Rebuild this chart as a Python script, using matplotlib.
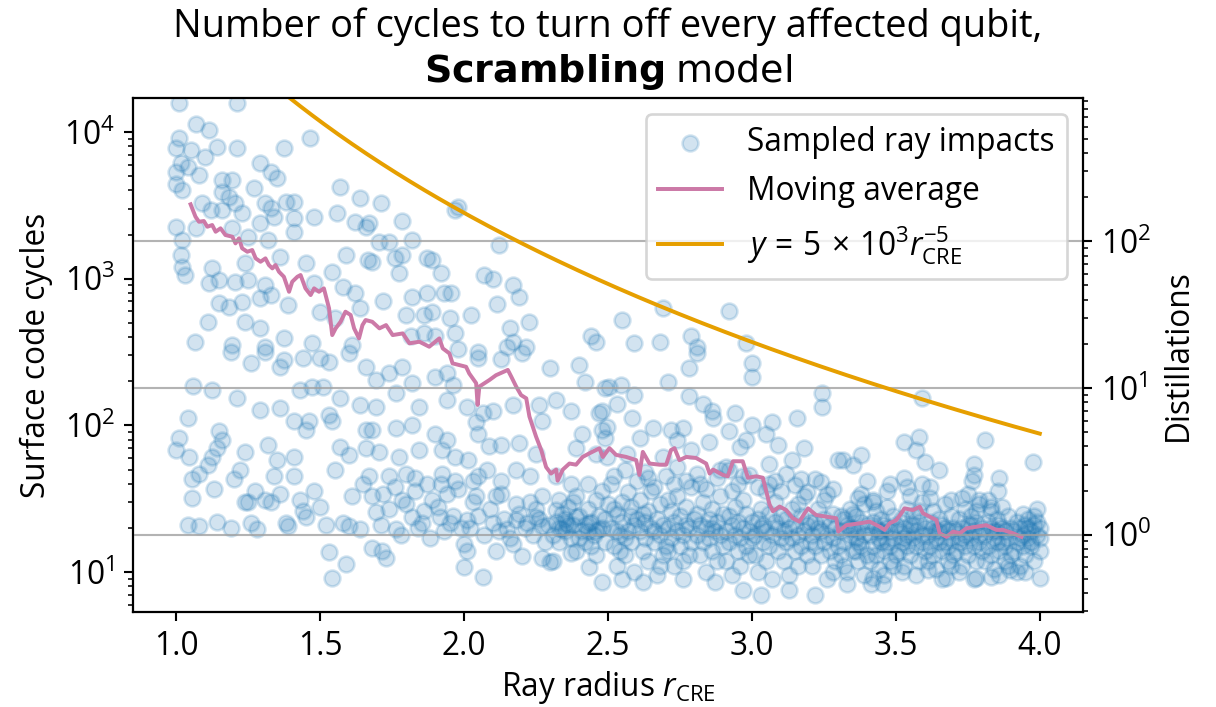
import numpy as np
import matplotlib
matplotlib.use("Agg")
import matplotlib.pyplot as plt

plt.rcParams['font.family'] = ['Open Sans', 'DejaVu Sans']
plt.rcParams['font.size'] = 12
plt.rcParams['mathtext.fontset'] = 'custom'
plt.rcParams['mathtext.rm'] = 'Open Sans'
plt.rcParams['mathtext.it'] = 'Open Sans:italic'
plt.rcParams['mathtext.bf'] = 'DejaVu Sans:bold'
plt.rcParams['mathtext.sf'] = 'DejaVu Sans'

# ---------------- data ----------------
pts_upper_left = [(1.01,15800),(1.21,15800),(1.07,11300),(1.115,10300),(1.01,9100),(1.0,7800),(1.05,7500),(1.14,7900),(1.21,7800),(1.10,6800),(1.375,7800),(1.465,9100),(1.015,6150),(1.0,5300),(1.04,5800),(1.08,5100),(1.0,4400),(1.02,4000),(1.16,4700),(1.195,4700),(1.29,6150),(1.33,5300),(1.35,4850),(1.27,4150),(1.16,3900),(1.185,3600),(1.205,3300),(1.09,3300),(1.12,2950),(1.57,4200),(1.64,3550),(1.31,3300),(1.38,3350),(1.41,3350),(1.33,3050),(1.34,2640),(1.23,2800),(1.16,2950),(1.48,2640),(1.56,2800),(1.41,2600),(1.0,2250),(1.07,2220),(1.29,2400),(1.195,2220),(1.41,2080),(1.62,2440),(1.66,2250),(1.02,1840),(1.25,1930),(1.32,1840),(1.015,1450),(1.02,1200),(1.03,1060),(1.125,1180),(1.24,1280),(1.36,1410),(1.45,1280),(1.59,1450),(1.665,1340),(1.115,930),(1.15,980),(1.205,950),(1.25,980),(1.31,910),(1.48,930),(1.54,1110),(1.58,880),(1.62,800),(1.15,680),(1.185,640),(1.23,690),(1.29,740),(1.33,770),(1.39,660),(1.50,590),(1.55,540),(1.64,630),(1.11,510),(1.24,510),(1.29,460),(1.065,370),(1.195,355),(1.31,340),(1.375,395),(1.47,365),(1.61,355)]

pts_lower_left = [(1.19,317),(1.26,265),(1.31,317),(1.36,250),(1.375,280),(1.44,290),(1.50,290),(1.53,270),(1.60,310),(1.66,250),(1.06,185),(1.125,175),(1.21,153),(1.29,128),(1.36,131),(1.04,113),(1.41,108),(1.46,108),(1.43,175),(1.47,182),(1.51,182),(1.45,93),(1.53,117),(1.54,108),(1.57,153),(1.64,138),(1.66,93),(1.01,82),(1.0,68),(1.045,61),(1.15,91),(1.16,79),(1.14,70),(1.125,61),(1.11,54),(1.08,47),(1.055,43),(1.13,37),(1.055,32),(1.24,66),(1.22,50),(1.20,43),(1.32,74),(1.35,58),(1.41,61),(1.34,45),(1.41,45),(1.55,50),(1.57,71),(1.60,63),(1.66,70),(1.275,36),(1.24,30),(1.25,30),(1.31,31),(1.33,30),(1.36,34),(1.43,31),(1.44,26),(1.48,36),(1.50,28),(1.61,33),(1.65,40),(1.04,21),(1.08,20.5),(1.14,22),(1.19,20),(1.26,21.5),(1.28,19.7),(1.38,21.5),(1.39,20.5),(1.45,23.6),(1.52,21),(1.58,21.5),(1.60,20.5),(1.64,19.7),(1.53,13.7),(1.59,11.3),(1.54,9.1),(1.68,14.6)]

pts_upper_mid = [(1.71,3300),(1.67,2400),(1.785,2480),(1.98,3080),(1.97,2950),(1.705,1780),(1.74,1780),(1.82,1840),(1.68,1300),(1.76,1380),(1.785,1450),(1.87,1380),(1.89,1340),(1.775,1100),(1.92,1100),(2.12,1700),(2.07,1060),(2.10,1000),(2.17,910),(2.19,750),(2.115,670),(1.72,710),(1.82,750),(1.87,800),(1.93,800),(1.955,800),(1.80,565),(1.86,565),(1.89,590),(1.95,540),(2.025,565),(1.97,430),(1.86,430),(1.815,410),(1.90,410),(2.16,460),(2.225,510),(2.17,370),(2.215,340),(2.15,340),(2.44,410),(2.46,370),(1.98,330),(2.05,315),(2.55,520),(2.69,630),(2.92,600),(2.59,365),(2.68,370),(2.79,410),(2.81,340),(2.98,365)]

pts_lower_mid = [(1.74,227),(1.785,250),(1.695,205),(1.82,195),(1.90,215),(1.94,227),(1.96,188),(2.05,290),(2.13,285),(2.20,310),(2.30,245),(2.40,260),(2.42,197),(2.49,180),(1.765,167),(1.695,133),(1.845,133),(1.94,150),(2.01,133),(2.065,122),(2.10,126),(2.17,137),(2.26,137),(2.32,150),(2.37,126),(2.47,122),(1.68,93),(1.765,96),(1.82,100),(1.90,88),(1.94,80),(2.04,105),(2.05,88),(2.27,108),(2.41,88),(2.48,93),(1.705,66),(1.775,61),(1.845,68),(1.925,68),(1.97,61),(2.015,58),(2.085,72),(2.13,74),(2.19,76),(2.25,64),(2.39,70),(2.46,64),(1.67,45),(1.74,45),(1.80,47),(1.87,40),(1.925,47),(1.97,42),(2.03,42),(2.05,45),(2.08,50),(2.13,42),(2.18,50),(2.23,45),(2.32,45),(2.37,40),(2.43,40),(2.48,36),(1.68,33),(1.72,34),(1.785,31),(1.83,36),(1.89,31),(1.94,34),(1.98,37),(2.04,33),(2.13,34),(2.23,30),(2.27,33),(2.33,31),(2.39,33),(2.46,31),(1.695,25.5),(1.765,19.7),(1.82,23.7),(1.855,21.5),(1.915,23.7),(1.95,21.5),(2.01,22.5),(2.10,21.5),(2.15,19.7),(2.18,22.5),(2.22,21.5),(2.25,23.7),(2.27,20.5),(2.32,26.5),(2.355,21.5),(2.39,23.7),(2.435,21.5),(2.47,19.7),(2.34,19.7),(2.43,19),(1.715,14),(1.73,12.5),(2.0,15.6),(2.01,14),(2.0,10.9),(2.065,9.3),(2.11,14),(2.17,15.6),(2.20,12.8),(2.27,12.4),(2.30,11.7),(2.37,13.6),(2.435,10.9),(2.48,8.6),
(1.71,21),(1.74,27),(1.78,18),(1.80,29),(1.84,20),(1.86,26),(1.88,17),(1.91,28),(1.93,19),(1.96,24),(1.99,20),(1.76,38),(1.83,44),(1.92,40),
(2.02,20),(2.05,24),(2.07,18),(2.09,27),(2.12,19),(2.14,23),(2.16,17),(2.19,25),(2.21,20),(2.24,18),(2.26,23),(2.28,16),(2.29,21),(2.03,30),(2.11,33),(2.18,29),(2.25,27),
(2.31,18),(2.32,22),(2.33,16),(2.34,25),(2.35,19),(2.36,28),(2.37,17),(2.38,21),(2.39,14),(2.40,24),(2.41,19),(2.42,16),(2.43,27),(2.44,22),(2.45,18),(2.46,13),(2.47,24),(2.48,20),(2.49,16),(2.50,29),(2.31,12),(2.35,23),(2.38,30),(2.42,21),(2.46,19),(2.49,23),(2.33,20),(2.40,17),(2.44,15),(2.36,21)]

pts_upper_right = [(2.81,310),(2.78,245),(3.0,265),(3.0,215),(2.71,197),(2.505,182),(2.545,188),(2.59,160),(2.78,158),(3.245,166),(3.245,133),(2.48,126),(2.53,141),(2.585,112),(2.83,141),(2.86,126),(2.865,113),(2.94,121),(3.155,112),(2.495,97),(2.655,96),(2.72,93),(2.76,96),(2.92,91),(3.0,100),(3.07,105),(2.49,82),(2.61,82),(2.74,79),(2.85,77),(2.98,79),(3.05,88),(3.09,74),(3.18,70),(3.30,58),(2.495,61),(2.565,64),(2.69,61),(2.79,68),(2.96,71),(3.06,55),(3.14,58),(2.89,50),(2.91,52),(2.97,45),(3.17,43),(3.22,43),(3.26,34),(3.05,36),(3.10,36),
(2.52,45),(2.56,50),(2.60,42),(2.63,48),(2.66,38),(2.70,45),(2.74,52),(2.77,42),(2.81,47),(2.84,37),(2.88,44),(2.92,50),(2.95,40),(2.99,46),(3.02,38),(3.08,42),(3.12,47),(3.15,39),(3.19,35),(3.24,41),(3.28,37),
(3.59,153),(3.53,77),(3.58,84),(3.57,68),(3.60,56),(3.65,50),(3.81,79),(3.975,56),(3.38,63),(3.315,58),(3.35,54),(3.77,55),(3.77,46),(3.765,42),(3.86,44),(3.855,36),(3.40,42),(3.47,36),(3.53,44),(3.54,38),(3.59,40),(3.62,38),(3.48,40),(3.69,31),(3.73,32),(3.79,31),(3.83,28),(3.37,32),(3.42,30),
(3.33,8.3),(3.415,8.3),(3.455,8.3),(3.42,9.1),(3.61,10.3),(3.675,9.1),(3.78,9.1),(3.83,9.3),(4.0,9.1),(3.895,10.3),(3.95,10)]

pts_band_a = [(2.51,20),(2.52,15),(2.53,25),(2.53,11),(2.54,18),(2.55,30),(2.55,22),(2.56,13),(2.57,19),(2.57,35),(2.58,16),(2.58,24),(2.59,10),(2.59,21),(2.52,27),(2.54,14),(2.56,17),(2.51,40),(2.58,28),(2.55,9),(2.53,19),(2.60,23),
(2.61,19),(2.61,31),(2.62,14),(2.63,22),(2.63,17),(2.64,26),(2.64,12),(2.65,20),(2.65,36),(2.66,16),(2.67,23),(2.67,9.5),(2.68,18),(2.68,29),(2.69,21),(2.69,13),(2.62,25),(2.66,19),(2.70,15),(2.64,44),(2.68,11),(2.62,8.5),
(2.71,20),(2.71,14),(2.72,26),(2.72,17),(2.73,22),(2.73,11),(2.74,19),(2.74,33),(2.75,15),(2.75,24),(2.76,18),(2.76,9),(2.77,21),(2.77,28),(2.78,13),(2.78,20),(2.79,16),(2.79,38),(2.80,23),(2.73,40),(2.76,12),(2.71,31),
(2.81,18),(2.81,25),(2.82,13),(2.82,21),(2.83,16),(2.83,30),(2.84,20),(2.84,10),(2.85,23),(2.85,17),(2.86,14),(2.86,27),(2.87,19),(2.87,8.5),(2.88,22),(2.88,12),(2.89,18),(2.89,33),(2.90,15),(2.82,40),(2.86,20),(2.90,25),
(2.91,19),(2.91,12),(2.92,24),(2.92,16),(2.93,21),(2.93,9.5),(2.94,18),(2.94,28),(2.95,14),(2.95,22),(2.96,17),(2.96,11),(2.97,20),(2.97,31),(2.98,15),(2.98,25),(2.99,13),(2.99,19),(3.00,22),(2.93,36),(2.97,7.5),(3.00,17)]

pts_band_b = [(3.01,18),(3.01,13),(3.02,23),(3.02,10),(3.03,20),(3.03,27),(3.04,16),(3.04,21),(3.05,12),(3.05,19),(3.06,25),(3.06,15),(3.07,18),(3.07,9),(3.08,22),(3.08,30),(3.09,14),(3.09,20),(3.10,17),(3.03,7),(3.06,40),(3.10,24),
(3.11,19),(3.11,12),(3.12,23),(3.12,16),(3.13,20),(3.13,9.5),(3.14,17),(3.14,27),(3.15,14),(3.15,21),(3.16,18),(3.16,11),(3.17,24),(3.17,15),(3.18,19),(3.18,33),(3.19,13),(3.19,21),(3.20,16),(3.13,7.5),(3.16,29),(3.20,22),
(3.21,18),(3.21,11),(3.22,22),(3.22,15),(3.23,20),(3.23,27),(3.24,13),(3.24,19),(3.25,16),(3.25,23),(3.26,9),(3.26,18),(3.27,21),(3.27,14),(3.28,25),(3.28,17),(3.29,12),(3.29,20),(3.30,15),(3.22,7),(3.25,31),(3.28,10),
(3.31,19),(3.31,13),(3.32,23),(3.32,16),(3.33,21),(3.33,10),(3.34,18),(3.34,27),(3.35,14),(3.35,20),(3.36,17),(3.36,24),(3.37,12),(3.37,19),(3.38,22),(3.38,15),(3.39,18),(3.39,29),(3.40,13),(3.40,21),(3.32,11),(3.35,25),(3.37,16),(3.39,9.5),(3.34,20),(3.36,14),(3.38,34),(3.31,24),
(3.41,18),(3.41,12),(3.42,22),(3.42,15),(3.43,20),(3.43,26),(3.44,17),(3.44,10.5),(3.45,19),(3.45,23),(3.46,14),(3.46,21),(3.47,16),(3.47,28),(3.48,12),(3.48,19),(3.49,24),(3.49,17),(3.50,21),(3.50,13),(3.42,31),(3.44,19),(3.46,9.5),(3.48,15),(3.43,13),(3.47,20),(3.49,11),(3.45,16)]

pts_band_c = [(3.51,19),(3.51,14),(3.52,23),(3.52,16),(3.53,20),(3.53,11),(3.54,18),(3.54,27),(3.55,13),(3.55,21),(3.56,17),(3.56,24),(3.57,15),(3.57,19),(3.58,22),(3.58,12),(3.59,18),(3.59,30),(3.60,14),(3.60,20),(3.52,10),(3.54,15),(3.56,21),(3.58,26),(3.53,17),(3.57,9.5),(3.55,33),(3.59,16),
(3.61,18),(3.61,12),(3.62,22),(3.62,15),(3.63,20),(3.63,26),(3.64,17),(3.64,10.5),(3.65,19),(3.65,23),(3.66,14),(3.66,21),(3.67,16),(3.67,29),(3.68,12),(3.68,19),(3.69,24),(3.69,17),(3.70,20),(3.70,13),(3.62,32),(3.64,19),(3.66,9),(3.68,15),(3.63,13),(3.67,20),(3.69,11),(3.65,16),
(3.71,19),(3.71,14),(3.72,23),(3.72,16),(3.73,20),(3.73,11),(3.74,18),(3.74,27),(3.75,13),(3.75,21),(3.76,17),(3.76,24),(3.77,15),(3.77,19),(3.78,22),(3.78,12),(3.79,18),(3.79,29),(3.80,14),(3.80,20),(3.72,10),(3.74,15),(3.76,21),(3.78,26),(3.73,17),(3.77,9),(3.75,34),(3.79,16),
(3.81,18),(3.81,12),(3.82,22),(3.82,15),(3.83,20),(3.83,26),(3.84,17),(3.84,10.5),(3.85,19),(3.85,23),(3.86,14),(3.86,21),(3.87,16),(3.87,28),(3.88,12),(3.88,19),(3.89,24),(3.89,17),(3.90,20),(3.90,13),(3.82,31),(3.84,19),(3.86,9.5),(3.88,15),(3.83,13),(3.87,20),(3.89,11),(3.85,16),
(3.91,19),(3.91,14),(3.92,22),(3.92,16),(3.93,20),(3.93,11),(3.94,18),(3.94,25),(3.95,13),(3.95,21),(3.96,17),(3.96,23),(3.97,15),(3.97,19),(3.98,21),(3.98,12),(3.99,18),(3.99,27),(4.00,14),(4.00,20),(3.92,10),(3.94,15),(3.96,20),(3.98,24),(3.93,17),(3.97,16),(4.00,17),(3.99,22)]

ma_r = [1.050,1.067,1.079,1.096,1.108,1.125,1.137,1.154,1.171,1.195,1.206,1.218,1.229,1.247,1.264,1.276,1.293,1.310,1.322,1.334,1.345,1.357,1.374,1.392,1.403,1.421,1.432,1.449,1.467,1.479,1.496,1.513,1.531,1.542,1.554,1.571,1.588,1.606,1.618,1.635,1.647,1.658,1.681,1.706,1.729,1.752,1.787,1.810,1.845,1.879,1.914,1.926,1.949,1.960,2.007,2.018,2.042,2.047,2.053,2.088,2.111,2.152,2.164,2.181,2.198,2.216,2.227,2.250,2.268,2.285,2.302,2.320,2.325,2.343,2.366,2.389,2.412,2.435,2.470,2.482,2.505,2.528,2.563,2.598,2.609,2.621,2.644,2.679,2.702,2.719,2.731,2.748,2.772,2.806,2.841,2.853,2.865,2.899,2.916,2.934,2.968,2.986,3.015,3.038,3.061,3.073,3.096,3.119,3.142,3.165,3.183,3.195,3.223,3.258,3.293,3.300,3.328,3.374,3.409,3.444,3.461,3.478,3.501,3.519,3.530,3.559,3.583,3.594,3.617,3.641,3.652,3.676,3.699,3.722,3.745,3.780,3.814,3.849,3.872,3.907,3.936]
ma_c = [3215,2647,2446,2474,2262,2323,2092,2206,1986,1934,1743,1885,1612,1528,1569,1377,1306,1377,1240,1177,1240,1116,1032,815,954,1032,1060,860,774,860,815,860,628,413,459,509,596,566,459,392,483,523,509,459,483,413,424,363,372,344,392,335,310,265,251,226,194,138,184,204,220,239,215,184,161,153,115,84,68,52,47,50,42,50,55,54,61,64.5,69.8,61,70,63,61,58,46,66,55,54,54,68,70,58,61,60,55,47,50,46,45,57,57,44,45,44,29,26,28,26.5,23.3,22.1,25.2,27.2,24.5,23.9,23.3,18.9,20.9,21.5,22.1,20.4,19.4,21.5,22.6,25.2,27.2,26.5,27.9,25.2,23.9,22.6,18.4,17.4,18.9,18.4,19.9,20.4,20.9,19.4,19.4,18.4,17.4]

fit_coef = 5e3          # y = 5x10^3 r^-5 (distillations)
fit_exp = -5
cycles_per_distillation = 18
r_fit_range = (1.0, 4.0)

# ---------------- plot ----------------
all_pts = (pts_upper_left + pts_lower_left + pts_upper_mid + pts_lower_mid +
           pts_upper_right + pts_band_a + pts_band_b + pts_band_c)
r_pts = [p[0] for p in all_pts]
c_pts = [p[1] for p in all_pts]

fig = plt.figure(figsize=(6.4, 3.7211), dpi=190)
ax = fig.add_axes([0.1094, 0.1344, 0.7812, 0.7270])

sc = ax.scatter(r_pts, c_pts, s=36, color='#1f77b4', alpha=0.2,
                label='Sampled ray impacts', zorder=2)
ma_line, = ax.plot(ma_r, ma_c, color='#CC79A7', lw=1.5, label='Moving average', zorder=3)
ax.set_yscale('log')
ax.set_xlim(0.85, 4.15)
ylo, yhi = 5.35, 17070
ax.set_ylim(ylo, yhi)
ax.set_xticks([1.0, 1.5, 2.0, 2.5, 3.0, 3.5, 4.0])
ax.set_xlabel(r'Ray radius $r_{\mathrm{CRE}}$', labelpad=2)
ax.set_ylabel('Surface code cycles')

ax2 = ax.twinx()
ax2.set_yscale('log')
ax2.set_ylim(ylo / cycles_per_distillation, yhi / cycles_per_distillation)
rr = np.linspace(r_fit_range[0], r_fit_range[1], 300)
fit_label = r'$y\,=\,5\,\times\,10^3 r_{\mathrm{CRE}}^{-5}$'
fit_line, = ax2.plot(rr, fit_coef * rr ** fit_exp, color='#E69F00', lw=1.5,
                     label=fit_label)
ax2.grid(True, which='major', axis='y', color='#a0a0a0', lw=0.8, alpha=0.8)
ax2.set_ylabel('Distillations')

ax.set_title('Number of cycles to turn off every affected qubit,\n'
             + r'$\bf{Scrambling}$ $\mathsf{model}$', fontsize='large')

ax2.legend([sc, ma_line, fit_line],
           ['Sampled ray impacts', 'Moving average', fit_label],
           loc='upper right')

fig.savefig('out.png', dpi=190)
